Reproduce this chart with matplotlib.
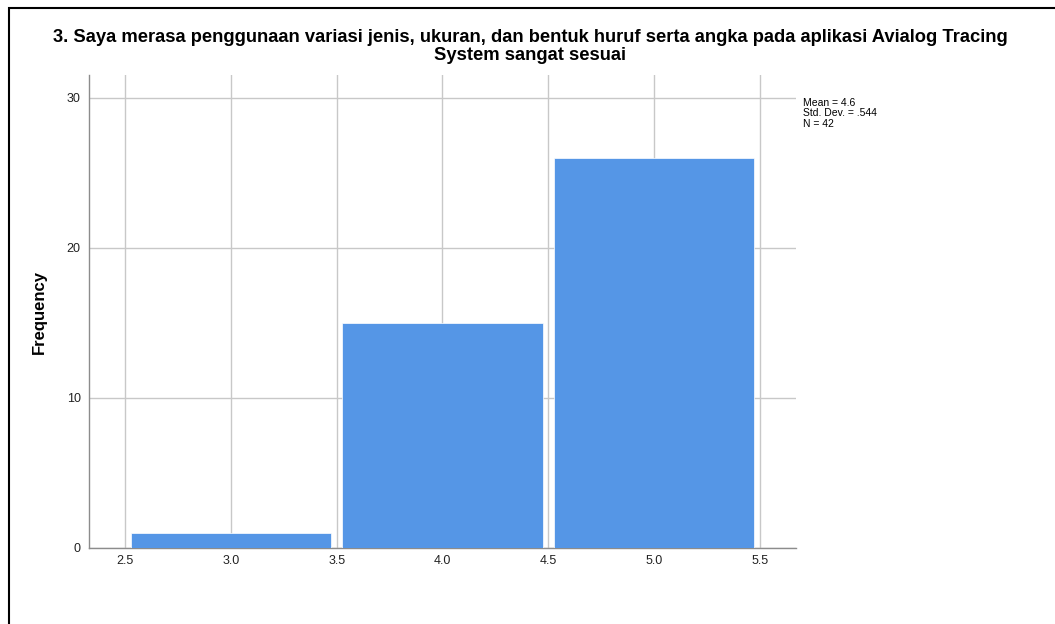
import matplotlib
matplotlib.use('Agg')
import matplotlib.pyplot as plt
from matplotlib.patches import Rectangle

# histogram data
values = [3.0, 4.0, 5.0]
freqs = [1, 15, 26]
xticks = [2.5, 3.0, 3.5, 4.0, 4.5, 5.0, 5.5]
yticks = [0, 10, 20, 30]
title_lines = ["3. Saya merasa penggunaan variasi jenis, ukuran, dan bentuk huruf serta angka pada aplikasi Avialog Tracing",
               "System sangat sesuai"]
stats = "Mean = 4.6\nStd. Dev. = .544\nN = 42"

plt.rcParams['font.family'] = ['Liberation Sans', 'DejaVu Sans']

W, H = 1055, 624
fig = plt.figure(figsize=(W / 100, H / 100), dpi=100)

# outer frame
fig.patches.append(Rectangle((9 / W, -0.1), 1.2, (H - 8) / H + 0.1,
                             transform=fig.transFigure, fill=False,
                             edgecolor='black', linewidth=1.5))

ax = fig.add_axes([89 / W, (H - 548) / H, (796 - 89) / W, (548 - 75) / H])
ax.bar(values, freqs, width=0.945, color='#5596e6', edgecolor='white',
       linewidth=0.5, zorder=3)

ax.set_xlim(2.33, 5.67)
ax.set_ylim(0, 31.5)
ax.set_xticks(xticks)
ax.set_xticklabels([f'{t:.1f}' for t in xticks])
ax.set_yticks(yticks)
ax.grid(True, color='#c8c8c8', linewidth=1, zorder=0)
ax.tick_params(length=0, labelsize=9, colors='#222222', pad=5)
ax.tick_params(axis='y', pad=6)

for s in ['top', 'right']:
    ax.spines[s].set_visible(False)
for s in ['left', 'bottom']:
    ax.spines[s].set_color('#8c8c8c')
    ax.spines[s].set_linewidth(1)

ax.set_ylabel('Frequency', fontsize=12, fontweight='bold', labelpad=14)

for i, line in enumerate(title_lines):
    fig.text(530 / W, 1 - (38 + 18 * i) / H, line, ha='center', va='center',
             fontsize=13.2, fontweight='bold')
fig.text(803 / W, 1 - 98 / H, stats, ha='left', va='top', fontsize=7.5,
         linespacing=1.05)

fig.savefig('out.png', dpi=100)
